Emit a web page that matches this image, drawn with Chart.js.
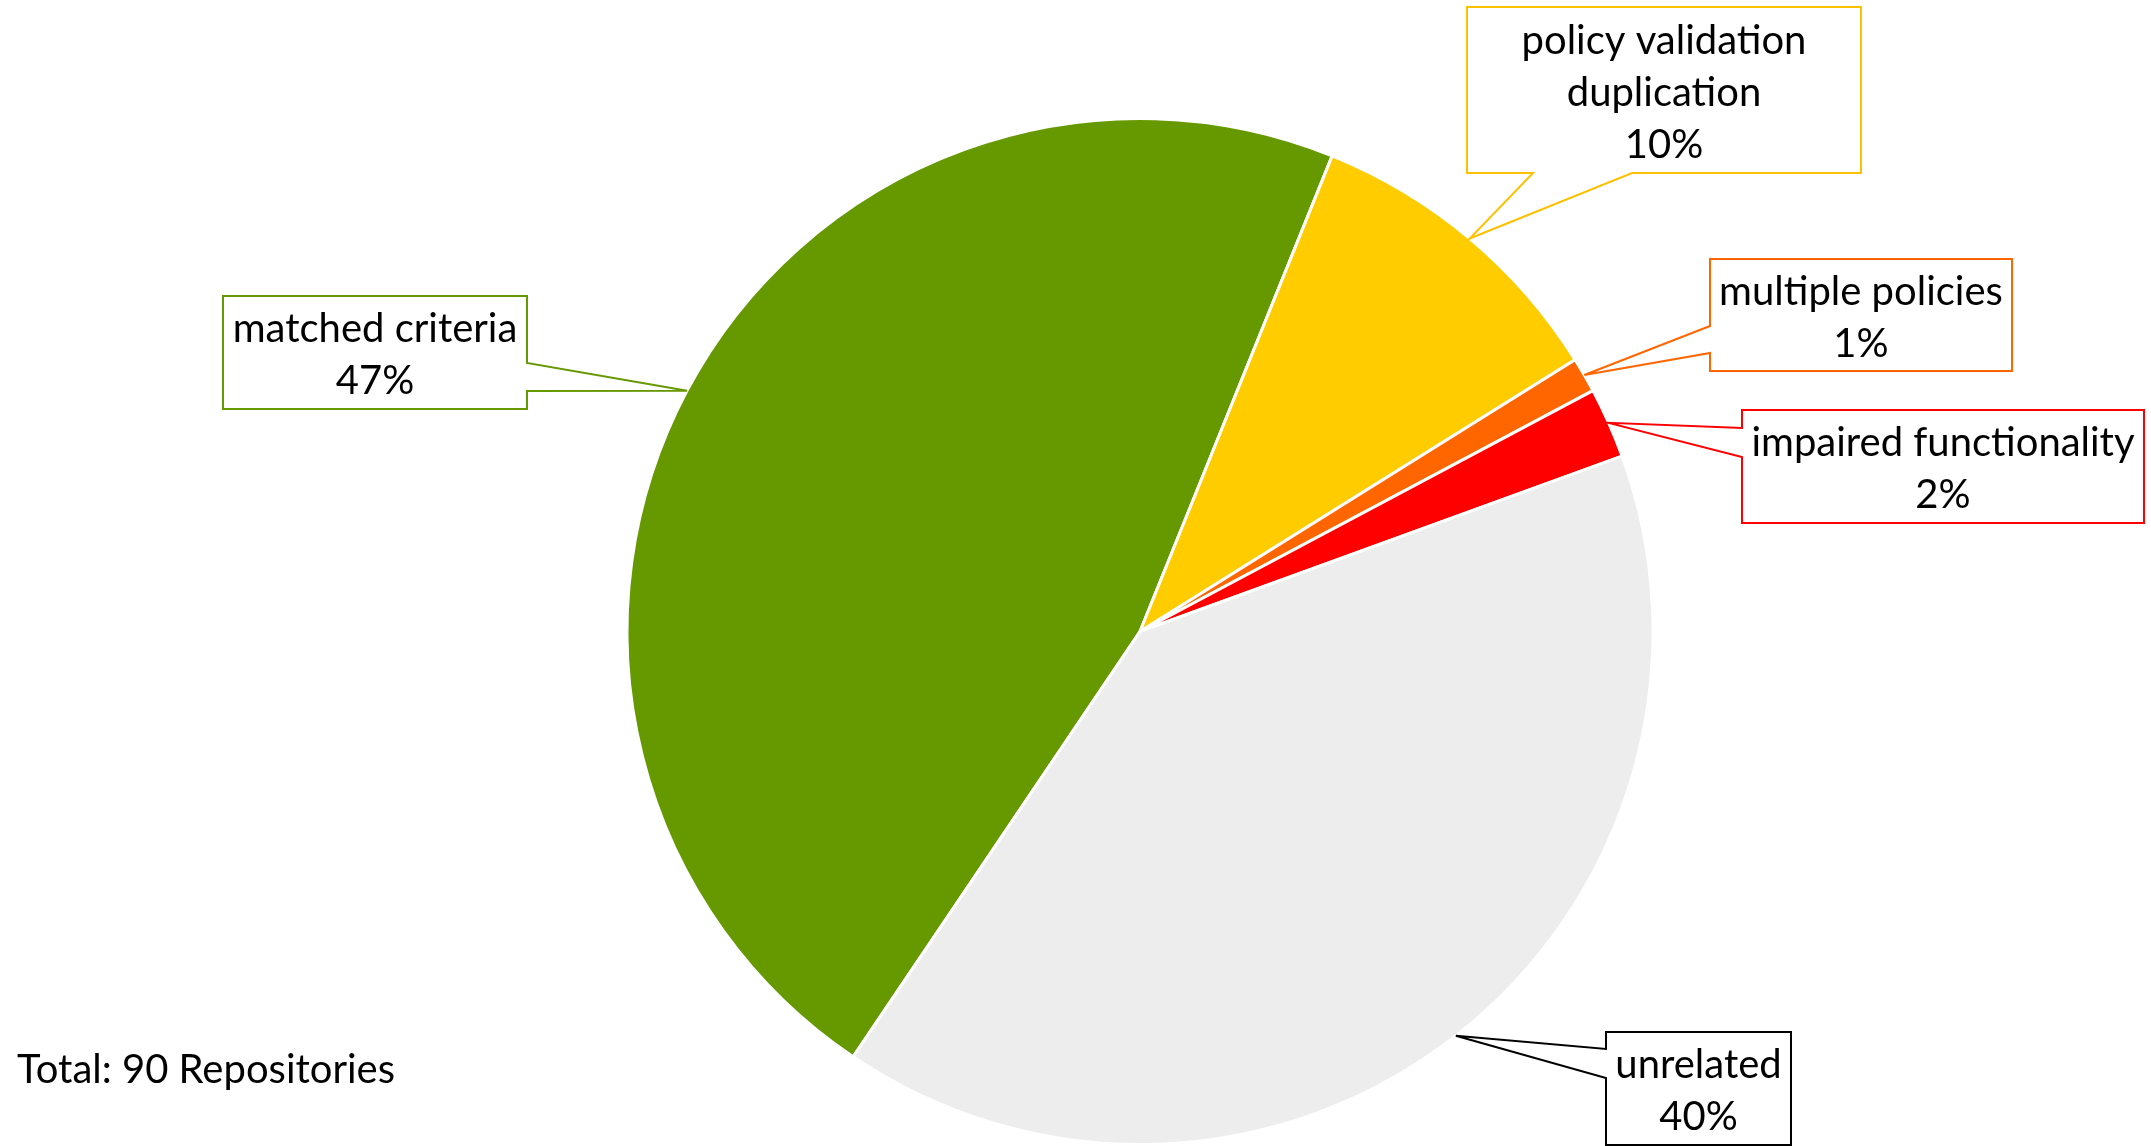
<!DOCTYPE html>
<html>
<head>
<meta charset="utf-8">
<title>Repository classification</title>
<script src="https://cdn.jsdelivr.net/npm/chart.js@4.4.1/dist/chart.umd.min.js"></script>
<style>
  html, body { margin: 0; padding: 0; background: #ffffff; }
  #wrap { width: 2151px; height: 1146px; position: relative; }
</style>
</head>
<body>
<div id="wrap"><canvas id="pieChart" width="2151" height="1146"></canvas></div>
<script>
// data (counts out of 90 repositories)
const categories = [
    ["matched criteria"],
    ["policy validation", "duplication"],
    ["multiple policies"],
    ["impaired functionality"],
    ["unrelated"]
];
const repoCounts = [42, 9, 1, 2, 36];
const sliceColors = ["#669900", "#FFCC00", "#FF6600", "#FF0000", "#EDEDED"];
const calloutColors = ["#669900", "#FFC000", "#FF6600", "#FF0000", "#000000"];

// callout box layout: rect [x0, y0, x1, y1], side the pointer leaves from, pointer base span on that side
const calloutBoxes = [
    { rect: [223, 296, 527, 409], side: "right", base: [363, 391] },
    { rect: [1467, 7, 1861, 173], side: "bottom", base: [1533, 1632] },
    { rect: [1710, 259, 2012, 371], side: "left", base: [326, 353] },
    { rect: [1742, 410, 2144, 523], side: "left", base: [428, 457] },
    { rect: [1606, 1032, 1791, 1145], side: "left", base: [1049, 1078] }
];

const FONT = "40px Lato, 'Open Sans', sans-serif";
const LINE_H = 52;
const total = repoCounts.reduce((a, b) => a + b, 0);

function calloutPath(ctx, box, tip) {
    const [x0, y0, x1, y1] = box.rect;
    const [b1, b2] = box.base;
    ctx.beginPath();
    ctx.moveTo(x0, y0);
    ctx.lineTo(x1, y0);
    if (box.side === "right") {
        ctx.lineTo(x1, b1);
        ctx.lineTo(tip.x, tip.y);
        ctx.lineTo(x1, b2);
    }
    ctx.lineTo(x1, y1);
    if (box.side === "bottom") {
        ctx.lineTo(b2, y1);
        ctx.lineTo(tip.x, tip.y);
        ctx.lineTo(b1, y1);
    }
    ctx.lineTo(x0, y1);
    if (box.side === "left") {
        ctx.lineTo(x0, b2);
        ctx.lineTo(tip.x, tip.y);
        ctx.lineTo(x0, b1);
    }
    ctx.closePath();
}

const calloutPlugin = {
    id: "callouts",
    afterDatasetsDraw(chart) {
        const ctx = chart.ctx;
        const arcs = chart.getDatasetMeta(0).data;
        ctx.save();
        arcs.forEach((arc, i) => {
            const p = arc.getProps(["x", "y", "startAngle", "endAngle", "outerRadius"], true);
            const mid = (p.startAngle + p.endAngle) / 2;
            const tip = { x: p.x + Math.cos(mid) * p.outerRadius, y: p.y + Math.sin(mid) * p.outerRadius };
            const box = calloutBoxes[i];
            calloutPath(ctx, box, tip);
            ctx.fillStyle = "#ffffff";
            ctx.fill();
            ctx.lineWidth = 2;
            ctx.strokeStyle = calloutColors[i];
            ctx.lineJoin = "miter";
            ctx.stroke();

            const lines = categories[i].concat([Math.round(repoCounts[i] / total * 100) + "%"]);
            const [x0, y0, x1, y1] = box.rect;
            const cx = (x0 + x1) / 2;
            const cy = (y0 + y1) / 2 + 3;
            ctx.fillStyle = "#000000";
            ctx.font = FONT;
            ctx.textAlign = "center";
            ctx.textBaseline = "middle";
            lines.forEach((t, k) => {
                ctx.fillText(t, cx, cy + (k - (lines.length - 1) / 2) * LINE_H);
            });
        });

        ctx.font = FONT;
        ctx.textAlign = "left";
        ctx.textBaseline = "alphabetic";
        ctx.fillStyle = "#000000";
        ctx.fillText("Total: " + total + " Repositories", 17, 1083);
        ctx.restore();
    }
};

new Chart(document.getElementById("pieChart"), {
    type: "pie",
    data: {
        labels: categories.map(c => c.join(" ")),
        datasets: [{
            data: repoCounts,
            backgroundColor: sliceColors,
            borderColor: "#ffffff",
            borderWidth: 3
        }]
    },
    options: {
        responsive: false,
        animation: false,
        rotation: -146,
        layout: { padding: { top: 117, bottom: 0, left: 129, right: 0 } },
        plugins: {
            legend: { display: false },
            tooltip: { enabled: false }
        }
    },
    plugins: [calloutPlugin]
});
</script>
</body>
</html>
